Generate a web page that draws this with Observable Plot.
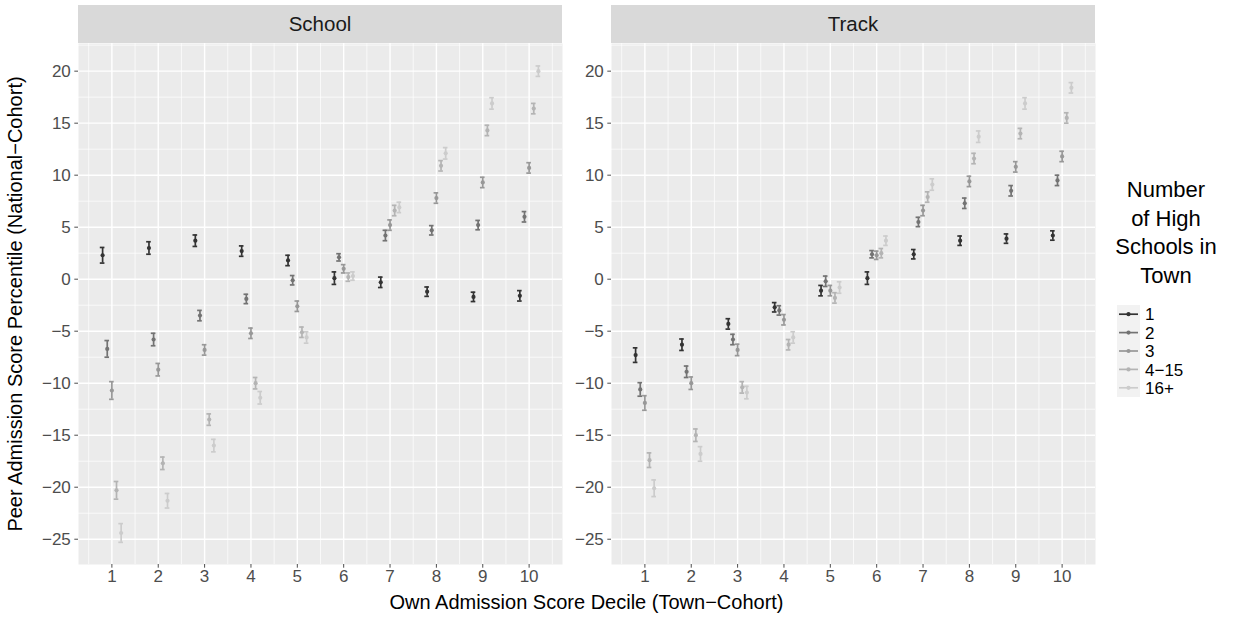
<!DOCTYPE html>
<html><head><meta charset="utf-8">
<script src="https://cdn.jsdelivr.net/npm/d3@7"></script>
<script src="https://cdn.jsdelivr.net/npm/@observablehq/plot@0.6"></script>
<style>
body{margin:0;background:#fff;font-family:"Liberation Sans",Arial,sans-serif;}
#wrap{position:relative;width:1249px;height:618px;overflow:hidden;background:#fff}
#wrap svg{position:absolute;top:0}
.strip{position:absolute;background:#D9D9D9;color:#1A1A1A;font-size:20.5px;display:flex;align-items:center;justify-content:center}
.txt{position:absolute;color:#000;white-space:nowrap}
</style></head><body><div id="wrap"></div>
<script>
// ---- data ----
const deciles = [1, 2, 3, 4, 5, 6, 7, 8, 9, 10];
const groups = ["1", "2", "3", "4\u221215", "16+"];
const greys = ["#333333", "#737373", "#989898", "#B4B4B4", "#CCCCCC"];
const panels = ["School", "Track"];
const xTicks = [1, 2, 3, 4, 5, 6, 7, 8, 9, 10];
const yTicks = [-25, -20, -15, -10, -5, 0, 5, 10, 15, 20];

// mean peer percentile, one array per group (deciles 1..10)
const schoolMeans = [
  [2.3, 3.0, 3.7, 2.7, 1.8, 0.1, -0.3, -1.2, -1.7, -1.6],
  [-6.7, -5.8, -3.5, -1.9, -0.1, 2.1, 4.2, 4.7, 5.2, 6.0],
  [-10.7, -8.7, -6.8, -5.2, -2.6, 1.0, 5.2, 7.8, 9.3, 10.7],
  [-20.3, -17.7, -13.5, -10.0, -5.1, 0.2, 6.6, 10.9, 14.3, 16.4],
  [-24.4, -21.3, -16.0, -11.4, -5.6, 0.3, 6.9, 12.1, 16.9, 20.0]
];
const trackMeans = [
  [-7.3, -6.3, -4.3, -2.7, -1.1, 0.1, 2.4, 3.7, 3.9, 4.2],
  [-10.6, -8.9, -5.8, -3.0, -0.2, 2.4, 5.5, 7.3, 8.5, 9.5],
  [-11.9, -10.0, -6.8, -3.9, -1.1, 2.3, 6.6, 9.4, 10.8, 11.8],
  [-17.4, -15.0, -10.4, -6.3, -1.8, 2.5, 7.9, 11.6, 14.0, 15.5],
  [-20.1, -16.8, -10.9, -5.6, -0.8, 3.7, 9.1, 13.7, 16.9, 18.4]
];
// half-widths of the confidence intervals
const schoolErr = [
  [0.75, 0.6, 0.55, 0.5, 0.5, 0.6, 0.5, 0.45, 0.45, 0.5],
  [0.8, 0.6, 0.5, 0.45, 0.45, 0.35, 0.5, 0.45, 0.45, 0.5],
  [0.85, 0.6, 0.5, 0.5, 0.5, 0.4, 0.5, 0.5, 0.5, 0.5],
  [0.85, 0.6, 0.55, 0.55, 0.5, 0.4, 0.5, 0.5, 0.5, 0.5],
  [0.9, 0.7, 0.6, 0.6, 0.55, 0.4, 0.5, 0.55, 0.55, 0.5]
];
const trackErr = [
  [0.7, 0.55, 0.5, 0.45, 0.5, 0.6, 0.45, 0.45, 0.45, 0.45],
  [0.65, 0.55, 0.5, 0.45, 0.5, 0.35, 0.45, 0.5, 0.5, 0.5],
  [0.7, 0.6, 0.55, 0.5, 0.5, 0.4, 0.5, 0.5, 0.5, 0.5],
  [0.7, 0.6, 0.55, 0.5, 0.5, 0.45, 0.5, 0.5, 0.5, 0.5],
  [0.8, 0.7, 0.6, 0.55, 0.55, 0.45, 0.55, 0.55, 0.55, 0.5]
];

// ---- build rows ----
const dodge = 0.1, capHalf = 0.05;
function rows(means, errs) {
  const out = [];
  groups.forEach((g, gi) => deciles.forEach((d, di) => {
    const xp = d + (gi - 2) * dodge;
    out.push({group: g, x: xp, xl: xp - capHalf, xr: xp + capHalf,
      y: means[gi][di], lo: means[gi][di] - errs[gi][di], hi: means[gi][di] + errs[gi][di]});
  }));
  return out;
}
const panelData = {School: rows(schoolMeans, schoolErr), Track: rows(trackMeans, trackErr)};

const font = '"Liberation Sans", Arial, sans-serif';
const minorX = d3.range(0.5, 11, 1);
const minorY = d3.range(-22.5, 23, 5);
const wrap = document.getElementById("wrap");

function panelPlot(name, left, marginLeft, width) {
  const data = panelData[name];
  const p = Plot.plot({
    width, height: 618,
    marginTop: 43, marginBottom: 54, marginLeft, marginRight: 0,
    x: {domain: [0.28, 10.72], axis: null},
    y: {domain: [-27.43, 22.66], axis: null},
    color: {domain: groups, range: greys},
    style: {fontFamily: font, background: "transparent", overflow: "visible"},
    marks: [
      Plot.frame({fill: "#EBEBEB", stroke: null}),
      Plot.ruleX(minorX, {stroke: "#fff", strokeWidth: 0.7}),
      Plot.ruleY(minorY, {stroke: "#fff", strokeWidth: 0.7}),
      Plot.ruleX(xTicks, {stroke: "#fff", strokeWidth: 1.4}),
      Plot.ruleY(yTicks, {stroke: "#fff", strokeWidth: 1.4}),
      Plot.ruleX(data, {x: "x", y1: "lo", y2: "hi", stroke: "group", strokeWidth: 1.7}),
      Plot.ruleY(data, {y: "lo", x1: "xl", x2: "xr", stroke: "group", strokeWidth: 1.7}),
      Plot.ruleY(data, {y: "hi", x1: "xl", x2: "xr", stroke: "group", strokeWidth: 1.7}),
      Plot.dot(data, {x: "x", y: "y", fill: "group", r: 2.1, stroke: null}),
      Plot.axisY({ticks: yTicks, tickSize: 3.7, tickPadding: 4, fontSize: 17, color: "#4D4D4D", label: null}),
      Plot.axisX({ticks: xTicks, tickSize: 3.7, tickPadding: 2, fontSize: 17, color: "#4D4D4D", label: null, tickFormat: d => String(d)})
    ]
  });
  p.style.left = left + "px";
  wrap.appendChild(p);
  const s = document.createElement("div");
  s.className = "strip";
  s.style.left = (left + marginLeft) + "px";
  s.style.top = "5px";
  s.style.width = (width - marginLeft) + "px";
  s.style.height = "38px";
  s.textContent = name;
  wrap.appendChild(s);
}
panelPlot(panels[0], 0, 78, 562);
panelPlot(panels[1], 562, 49, 533);

// axis titles
const xt = document.createElement("div");
xt.className = "txt";
xt.style.cssText += "left:586.5px;top:602px;transform:translate(-50%,-50%);font-size:20px;";
xt.textContent = "Own Admission Score Decile (Town\u2212Cohort)";
wrap.appendChild(xt);
const yt = document.createElement("div");
yt.className = "txt";
yt.style.cssText += "left:15px;top:303.5px;transform:translate(-50%,-50%) rotate(-90deg);font-size:20px;";
yt.textContent = "Peer Admission Score Percentile (National\u2212Cohort)";
wrap.appendChild(yt);

// legend
const legendTitle = ["Number", "of High", "Schools in", "Town"];
const lt = document.createElement("div");
lt.className = "txt";
lt.style.cssText += "left:1166px;top:176px;transform:translateX(-50%);font-size:22px;line-height:28.5px;text-align:center;";
lt.innerHTML = legendTitle.join("<br>");
wrap.appendChild(lt);

const keyH = 18.4, keyTop = 305;
const ns = "http://www.w3.org/2000/svg";
const lsvg = document.createElementNS(ns, "svg");
lsvg.setAttribute("width", 1249); lsvg.setAttribute("height", 618);
lsvg.style.left = "0px"; lsvg.style.pointerEvents = "none";
const bg = document.createElementNS(ns, "rect");
bg.setAttribute("x", 1117); bg.setAttribute("y", keyTop); bg.setAttribute("width", 23);
bg.setAttribute("height", keyH * groups.length); bg.setAttribute("fill", "#F2F2F2");
lsvg.appendChild(bg);
groups.forEach((g, i) => {
  const cy = keyTop + keyH * (i + 0.5);
  const ln = document.createElementNS(ns, "line");
  ln.setAttribute("x1", 1119); ln.setAttribute("x2", 1138);
  ln.setAttribute("y1", cy); ln.setAttribute("y2", cy);
  ln.setAttribute("stroke", greys[i]); ln.setAttribute("stroke-width", 1.7);
  lsvg.appendChild(ln);
  const c = document.createElementNS(ns, "circle");
  c.setAttribute("cx", 1128.5); c.setAttribute("cy", cy); c.setAttribute("r", 2.1);
  c.setAttribute("fill", greys[i]);
  lsvg.appendChild(c);
  const t = document.createElementNS(ns, "text");
  t.setAttribute("x", 1145); t.setAttribute("y", cy);
  t.setAttribute("dy", "0.36em");
  t.setAttribute("font-size", 17); t.setAttribute("font-family", font);
  t.setAttribute("fill", "#000");
  t.textContent = g;
  lsvg.appendChild(t);
});
wrap.appendChild(lsvg);
</script></body></html>
